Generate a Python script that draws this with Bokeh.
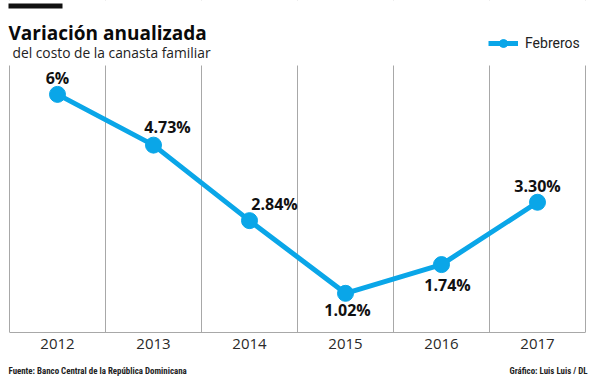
from bokeh.plotting import figure
from bokeh.layouts import column
from bokeh.models import (Label, Range1d, FixedTicker, BoxAnnotation, Legend,
                          LegendItem, ColumnDataSource)
from bokeh.core.properties import value
from bokeh.embed import file_html
from bokeh.resources import INLINE

# ---- data ----
years = ["2012", "2013", "2014", "2015", "2016", "2017"]
febreros = [6.0, 4.73, 2.84, 1.02, 1.74, 3.30]
labels = ["6%", "4.73%", "2.84%", "1.02%", "1.74%", "3.30%"]
series_name = "Febreros"
title = "Variación anualizada"
subtitle = "del costo de la canasta familiar"
source_note = "Fuente: Banco Central de la República Dominicana"
credit_note = "Gráfico: Luis Luis / DL"

# ---- style (label offsets in px) ----
label_dx = [0, 14, 25, 2, 6, 0]
label_dy = [-16, -18, -17, 17, 20, -16]
BLUE = "#0AA6E8"
GRID = "#A8A8A8"

n = len(years)
xs = [i + 0.5 for i in range(n)]
src = ColumnDataSource(dict(x=xs, y=febreros, label=labels, dx=label_dx, dy=label_dy))

W, H = 600, 355
FB = 332  # frame bottom (canvas px)
p = figure(width=W, height=H, output_backend="svg", toolbar_location=None,
           x_range=Range1d(-9 / 96, n + 15 / 96), y_range=Range1d(0.04, 8.35),
           min_border_left=0, min_border_right=0, min_border_top=0,
           min_border_bottom=H - FB)
p.outline_line_color = None
p.background_fill_color = "white"
p.yaxis.visible = False
p.ygrid.visible = False

p.xgrid.ticker = FixedTicker(ticks=list(range(n + 1)))
p.xgrid.grid_line_color = GRID
p.xgrid.grid_line_width = 1

xa = p.xaxis[0]
xa.bounds = (0, n)
xa.ticker = FixedTicker(ticks=xs)
xa.major_label_overrides = {x: y for x, y in zip(xs, years)}
xa.major_tick_line_color = None
xa.minor_tick_line_color = None
xa.axis_line_color = GRID
xa.major_label_text_font = "Open Sans"
xa.major_label_text_font_size = "15px"
xa.major_label_text_color = "#2a2a2a"
xa.major_label_standoff = 0

ln = p.line("x", "y", source=src, line_color=BLUE, line_width=5)
sc = p.scatter("x", "y", source=src, size=16, fill_color=BLUE, line_color=BLUE)

p.text("x", "y", text="label", source=src, x_offset="dx", y_offset="dy",
       text_font=value("Open Sans"), text_font_style="bold", text_font_size="16px",
       text_align="center", text_baseline="alphabetic", text_color="#111111")

# white header band (hides grid lines above the plotting area)
p.add_layout(BoxAnnotation(bottom=6.72, fill_color="white", fill_alpha=1,
                           line_color=None))

legend = Legend(items=[LegendItem(label=series_name, renderers=[ln, sc])],
                location=(488, FB - 53), padding=0, margin=0, spacing=0,
                glyph_width=30, glyph_height=20, label_standoff=7,
                label_text_font="Roboto", label_text_font_size="14px",
                label_text_color="#222222", border_line_color=None,
                background_fill_alpha=0)
p.add_layout(legend)

# header (screen units: x from frame left, y from frame bottom)
p.add_layout(BoxAnnotation(left=8, right=62, top=FB - 3, bottom=FB - 8,
                           left_units="screen", right_units="screen",
                           top_units="screen", bottom_units="screen",
                           fill_color="#111111", fill_alpha=1, line_color=None))
p.add_layout(Label(x=8, y=FB - 32, x_units="screen", y_units="screen", text=title,
                   text_font="Open Sans", text_font_style="bold",
                   text_font_size="19px", text_color="#0a0a0a",
                   text_baseline="alphabetic"))
p.add_layout(Label(x=12, y=FB - 52, x_units="screen", y_units="screen", text=subtitle,
                   text_font="Open Sans", text_font_size="13.8px",
                   text_color="#222222", text_baseline="alphabetic"))

# footer
f = figure(width=W, height=377 - H, output_backend="svg", toolbar_location=None,
           x_range=Range1d(0, W), y_range=Range1d(0, 377 - H),
           min_border=0)
f.axis.visible = False
f.grid.visible = False
f.outline_line_color = None
f.add_layout(Label(x=8, y=7, text=source_note,
                   text_font="Roboto Condensed", text_font_style="bold",
                   text_font_size="8.9px", text_color="#222222",
                   text_baseline="alphabetic"))
f.add_layout(Label(x=587, y=7, text=credit_note,
                   text_font="Roboto Condensed", text_font_style="bold",
                   text_font_size="8.9px", text_color="#222222", text_align="right",
                   text_baseline="alphabetic"))

layout = column(p, f, spacing=0)
open("out.html", "w").write(file_html(layout, INLINE))
